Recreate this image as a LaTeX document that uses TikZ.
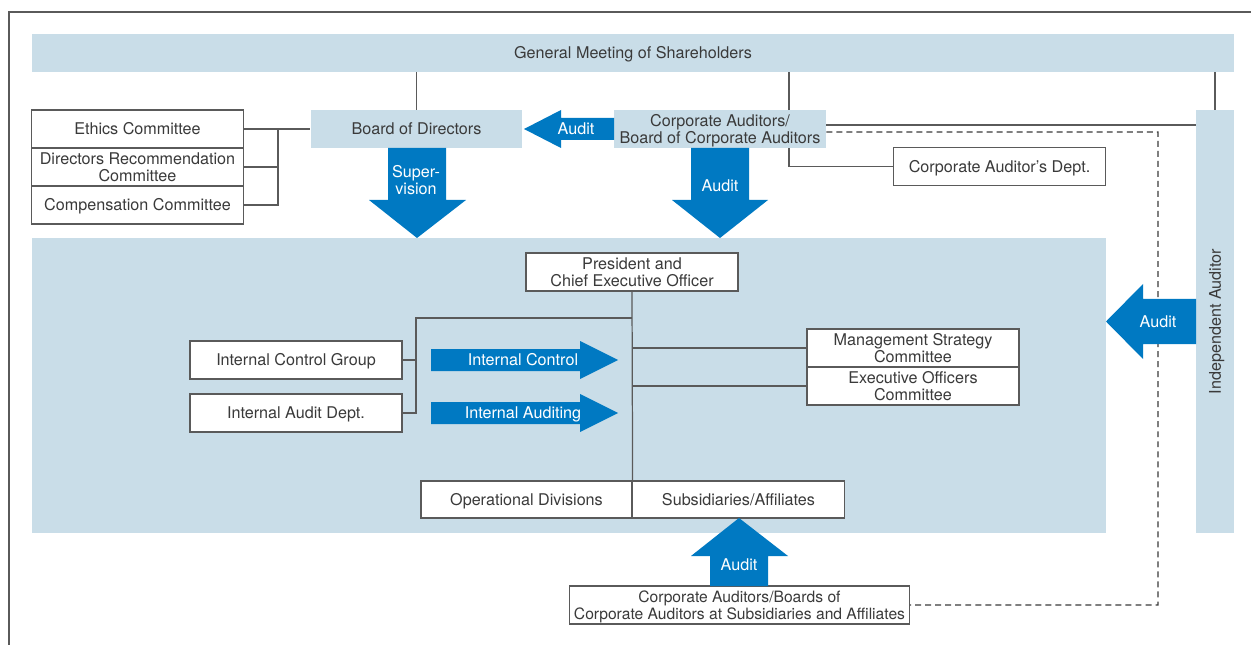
\documentclass[tikz,border=0pt]{standalone}
\usepackage{fontspec}
\setmainfont{TeX Gyre Heros}
\usepackage{tikz}
\usetikzlibrary{positioning}

\definecolor{paleblue}{HTML}{C9DDE8}
\definecolor{arrowblue}{HTML}{0079C2}
\definecolor{inkgray}{HTML}{3A3A3A}
\definecolor{rulegray}{HTML}{5A5A5A}

\tikzset{
  every node/.style={font=\fontsize{9.2}{10}\selectfont, text=inkgray, align=center, inner sep=0pt,
    text height=6.8pt, text depth=0pt},
  twoline/.style={text height=16.8pt, text depth=0pt},
  wbox/.style={draw=rulegray, fill=white, line width=0.7pt, minimum width=4.24cm, minimum height=0.76cm},
  bbox/.style={fill=paleblue, minimum width=4.24cm, minimum height=0.76cm},
  conn/.style={draw=rulegray, line width=0.7pt},
  dashconn/.style={draw=inkgray, line width=0.65pt, dash pattern=on 3.4pt off 2.3pt},
  bigarrow/.style={fill=arrowblue},
  arrowtext/.style={text=white},
}

\begin{document}
\begin{tikzpicture}[x=0.02cm, y=-0.02cm]
  \useasboundingbox (0,0) rectangle (1251,645);
  % Frame
  \draw[rulegray, line width=0.8pt] (9,645) |- (1251,12);

  % Shareholders, board and auditors
  \node[bbox, minimum width=24.04cm] (gm) at (633,53) {General Meeting of Shareholders};
  \node[bbox] (bod) at (416.5,129) {Board of Directors};
  \node[bbox, twoline] (ca) at (720,129) {Corporate Auditors/\\Board of Corporate Auditors};
  \node[wbox] (cad) at (999.5,166.5) {Corporate Auditor’s Dept.};
  \node[bbox, minimum width=0.76cm, minimum height=8.46cm] (ia) at (1215,321.5) {};
  \node[rotate=90] (ialabel) at (ia.center) {Independent Auditor};

  % Board committees
  \node[wbox] (eth) at (137.5,129) {Ethics Committee};
  \node[wbox, twoline] (drc) at (137.5,167) {Directors Recommendation\\Committee};
  \node[wbox] (comp) at (137.5,205) {Compensation Committee};

  % Execution
  \fill[paleblue] (32,238) rectangle (1106,533);
  \node[wbox, twoline] (pres) at (632,272) {President and\\Chief Executive Officer};
  \node[wbox] (icg) at (296,360) {Internal Control Group};
  \node[wbox] (iad) at (296,413) {Internal Audit Dept.};
  \node[wbox, twoline] (msc) at (913,348) {Management Strategy\\Committee};
  \node[wbox, twoline] (eoc) at (913,386) {Executive Officers\\Committee};
  \node[wbox, minimum width=4.22cm, minimum height=0.74cm] (opd) at (526.5,499.5) {Operational Divisions};
  \node[wbox, minimum height=0.74cm] (sub) at (738.5,499.5) {Subsidiaries/Affiliates};
  \node[wbox, twoline, minimum width=6.8cm, font=\fontsize{8.9}{10}\selectfont] (sca) at (739.5,605)
    {Corporate Auditors/Boards of\\Corporate Auditors at Subsidiaries and Affiliates};

  % Lines
  \coordinate (bj) at (278,129);
  \draw[conn] (eth.east) -- (bod.west);
  \draw[conn] (bj) |- (drc.east);
  \draw[conn] (bj) |- (comp.east);
  \draw[conn] (bod.north) -- (bod.north |- gm.south);
  \draw[conn] ([xshift=1.38cm]ca.north) -- ([xshift=1.38cm]ca.north |- gm.south);
  \draw[conn] ([xshift=1.38cm]ca.south) |- (cad.west);
  \draw[conn] (ia.north) -- (ia.north |- gm.south);
  \draw[conn] ([yshift=0.08cm]ca.east) -- ([yshift=0.08cm]ca.east -| ia.west);
  \coordinate (dc) at (1158,132);
  \draw[dashconn] ([yshift=-0.06cm]ca.east) -- (dc) |- (sca.east);

  \coordinate (ij) at (416,318);
  \draw[conn] (pres.south) -- (opd.north east);
  \draw[conn] (pres.south |- ij) -- (ij) |- (iad.east);
  \draw[conn] (icg.east) -- (icg.east -| ij);
  \draw[conn] (pres.south |- msc.west) -- (msc.west);
  \draw[conn] (pres.south |- eoc.west) -- (eoc.west);

  % Block arrows
  \fill[bigarrow] (388,148) -- (388,200) -- (369,200) -- (417,238) -- (466,200) -- (446,200) -- (446,148) -- cycle;
  \node[arrowtext, twoline] (supv) at (416,180) {Super-\\vision};
  \fill[bigarrow] (691,148) -- (691,200) -- (672,200) -- (720,238) -- (768,200) -- (749,200) -- (749,148) -- cycle;
  \node[arrowtext] (audd) at (720,186) {Audit};
  \fill[bigarrow] (614,118) -- (561,118) -- (561,110) -- (524,129) -- (561,148) -- (561,140) -- (614,140) -- cycle;
  \node[arrowtext] (audl) at (576,129) {Audit};
  \fill[bigarrow] (431,349) -- (580,349) -- (580,341) -- (618,360) -- (580,379) -- (580,371) -- (431,371) -- cycle;
  \node[arrowtext] (ictl) at (523,360) {Internal Control};
  \fill[bigarrow] (431,402) -- (580,402) -- (580,394) -- (618,413) -- (580,432) -- (580,424) -- (431,424) -- cycle;
  \node[arrowtext] (iaud) at (523,413) {Internal Auditing};
  \fill[bigarrow] (1196,299) -- (1143,299) -- (1143,284) -- (1106,321.5) -- (1143,359) -- (1143,344) -- (1196,344) -- cycle;
  \node[arrowtext] (audr) at (1158,322) {Audit};
  \fill[bigarrow] (710,586) -- (710,556) -- (691,556) -- (739,518) -- (788,556) -- (768,556) -- (768,586) -- cycle;
  \node[arrowtext] (audu) at (739,565) {Audit};
\end{tikzpicture}
\end{document}
